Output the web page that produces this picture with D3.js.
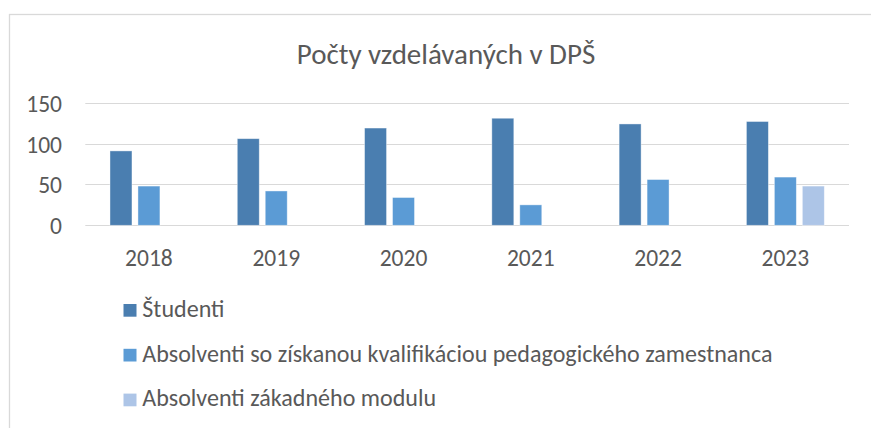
<!DOCTYPE html>
<html><head><meta charset="utf-8">
<script src="https://cdn.jsdelivr.net/npm/d3@7"></script>
<style>
html,body{margin:0;padding:0;background:#fff;}
svg{display:block;}
text{font-family:Carlito,Lato,"Open Sans",sans-serif;fill:#595959;}
</style></head>
<body>
<svg id="c" width="871" height="428"></svg>
<script>
const title = "Počty vzdelávaných v DPŠ";
const years = ["2018","2019","2020","2021","2022","2023"];
const seriesNames = ["Študenti","Absolventi so získanou kvalifikáciou pedagogického zamestnanca","Absolventi zákadného modulu"];
const students = [91,106,119,131,124,127];
const graduatesQualified = [48,42,34,25,56,59];
const graduatesBasic = [0,0,0,0,0,48];
const seriesColors = ["#4a7eb0","#5b9bd5","#adc5e7"];
const yTicks = [0,50,100,150];

const seriesValues = [students, graduatesQualified, graduatesBasic];
const svg = d3.select("#c");

// chart border
svg.append("rect").attr("x",9.5).attr("y",14.5).attr("width",900).attr("height",500)
  .attr("fill","none").attr("stroke","#d9d9d9").attr("stroke-width",1.3);

const x = d3.scaleBand().domain(years).range([85.3,849]).padding(0);
const xInner = d3.scaleBand().domain(d3.range(seriesNames.length))
  .range([x.bandwidth()*0.194, x.bandwidth()*0.806]).paddingInner(0.214).paddingOuter(0);
const y = d3.scaleLinear().domain([0,150]).range([225.3,102.7]);

function fit(sel, target){
  sel.attr("font-size",20);
  const w = sel.node().getComputedTextLength();
  const s = 20*target/w;
  return s;
}

// gridlines
svg.append("g").selectAll("line").data(yTicks).join("line")
  .attr("x1",85.3).attr("x2",849)
  .attr("y1",d=>Math.round(y(d))+0.5).attr("y2",d=>Math.round(y(d))+0.5)
  .attr("stroke","#d9d9d9").attr("stroke-width",1.2);

// bars
const rows = years.map((yr,i)=>({yr, vals: seriesValues.map((s,j)=>({j, v:s[i]}))}));
svg.append("g").selectAll("g").data(rows).join("g")
  .attr("transform",d=>`translate(${x(d.yr)},0)`)
  .selectAll("rect").data(d=>d.vals.filter(e=>e.v>0)).join("rect")
  .attr("x",d=>xInner(d.j)).attr("width",xInner.bandwidth())
  .attr("y",d=>y(d.v)).attr("height",d=>y(0)-y(d.v))
  .attr("fill",d=>seriesColors[d.j])
  .attr("stroke","#ffffff").attr("stroke-opacity",0.5).attr("stroke-width",0.8);

// axis labels size
const probe = svg.append("text").text("2018");
const axisSize = fit(probe, 47.7);
probe.remove();

// y axis
const yAxis = d3.axisLeft(y).tickValues(yTicks).tickSize(0).tickPadding(0);
const gy = svg.append("g").attr("transform","translate(62,1)").call(yAxis);
gy.select(".domain").remove();
gy.selectAll("text").attr("font-size",axisSize).attr("font-family",null).attr("fill","#595959");

// x axis
const xAxis = d3.axisBottom(x).tickSize(0).tickPadding(0);
const gx = svg.append("g").attr("transform","translate(0,249)").call(xAxis);
gx.select(".domain").remove();
gx.selectAll("text").attr("font-size",axisSize).attr("font-family",null).attr("fill","#595959").attr("dy","0.71em");

// title
const t = svg.append("text").attr("x",446).attr("y",63.5).attr("text-anchor","middle").text(title);
t.attr("font-size", fit(t, 298.5));

// legend
const lg = svg.append("g");
const legRows = [316.7, 361.5, 406.3];
const probe2 = svg.append("text").text(seriesNames[1]);
const legSize = fit(probe2, 630.4);
probe2.remove();
seriesNames.forEach((n,i)=>{
  lg.append("rect").attr("x",123.5).attr("y",legRows[i]-12.7).attr("width",13).attr("height",12.7).attr("fill",seriesColors[i]);
  lg.append("text").attr("x",142.3).attr("y",legRows[i]).attr("font-size",legSize).text(n);
});
</script>
</body></html>
